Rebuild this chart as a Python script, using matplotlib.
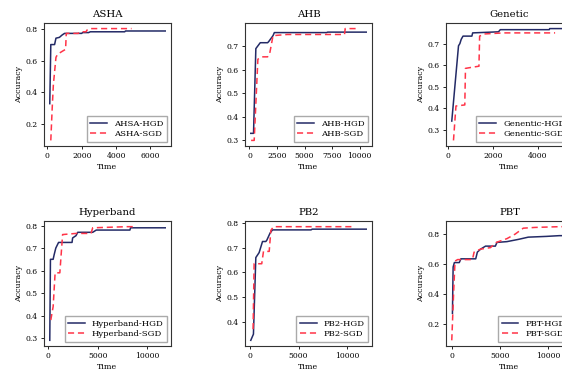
import matplotlib
matplotlib.use("Agg")
import matplotlib.pyplot as plt

plt.rcParams['font.family'] = ['DejaVu Serif']

titles = ['ASHA', 'AHB', 'Genetic', 'Hyperband', 'PB2', 'PBT']
hgd_labels = ['AHSA-HGD', 'AHB-HGD', 'Genentic-HGD', 'Hyperband-HGD', 'PB2-HGD', 'PBT-HGD']
sgd_labels = ['ASHA-SGD', 'AHB-SGD', 'Genentic-SGD', 'Hyperband-SGD', 'PB2-SGD', 'PBT-SGD']

# ASHA
asha_hgd_t = [140, 200, 420, 500, 700, 860, 1000, 2000, 2050, 2400, 2500, 4500, 4550, 6860]
asha_hgd_a = [0.33, 0.70, 0.70, 0.74, 0.745, 0.76, 0.77, 0.77, 0.775, 0.775, 0.78, 0.78, 0.785, 0.785]
asha_sgd_t = [200, 280, 350, 500, 600, 900, 1060, 1100, 1800, 1900, 2250, 2300, 2450, 4900]
asha_sgd_a = [0.10, 0.30, 0.45, 0.62, 0.64, 0.66, 0.67, 0.77, 0.77, 0.78, 0.78, 0.79, 0.80, 0.80]

# AHB
ahb_hgd_t = [120, 370, 580, 980, 1650, 1750, 2140, 2260, 7000, 7100, 10600]
ahb_hgd_a = [0.33, 0.33, 0.69, 0.715, 0.715, 0.72, 0.745, 0.758, 0.758, 0.76, 0.76]
ahb_sgd_t = [150, 430, 765, 1130, 1650, 1840, 2140, 3430, 8630, 8690, 9700]
ahb_sgd_a = [0.30, 0.30, 0.645, 0.655, 0.655, 0.67, 0.745, 0.75, 0.75, 0.775, 0.775]

# Genetic
gen_hgd_t = [160, 460, 520, 580, 660, 1055, 1090, 2240, 2320, 4500, 4520, 5300]
gen_hgd_a = [0.34, 0.69, 0.70, 0.72, 0.735, 0.735, 0.75, 0.755, 0.765, 0.765, 0.77, 0.77]
gen_sgd_t = [236, 346, 740, 770, 1055, 1370, 1400, 1600, 2470, 4760]
gen_sgd_a = [0.25, 0.41, 0.415, 0.585, 0.59, 0.595, 0.735, 0.745, 0.75, 0.75]

# Hyperband
hyp_hgd_t = [137, 205, 480, 580, 750, 1030, 2400, 2460, 2800, 2980, 4500, 4860, 8280, 8350, 11870]
hyp_hgd_a = [0.29, 0.65, 0.65, 0.67, 0.70, 0.725, 0.725, 0.745, 0.755, 0.77, 0.77, 0.78, 0.78, 0.79, 0.79]
hyp_sgd_t = [240, 480, 680, 1160, 1440, 2800, 4330, 4500, 7940, 8800]
hyp_sgd_a = [0.38, 0.44, 0.59, 0.59, 0.76, 0.765, 0.765, 0.79, 0.795, 0.795]

# PB2
pb2_hgd_t = [70, 345, 590, 930, 1280, 1620, 1720, 2070, 2310, 6280, 6400, 11970]
pb2_hgd_a = [0.325, 0.35, 0.66, 0.68, 0.725, 0.725, 0.73, 0.76, 0.772, 0.772, 0.775, 0.775]
pb2_sgd_t = [310, 414, 1200, 1380, 1970, 2140, 2415, 10760]
pb2_sgd_a = [0.37, 0.635, 0.635, 0.685, 0.685, 0.77, 0.785, 0.785]

# PBT
pbt_hgd_t = [70, 140, 270, 780, 950, 2490, 2660, 3000, 3510, 4530, 4700, 5730, 6920, 7950, 9820, 11180, 12000]
pbt_hgd_a = [0.27, 0.58, 0.61, 0.61, 0.635, 0.635, 0.68, 0.70, 0.72, 0.72, 0.745, 0.75, 0.765, 0.78, 0.785, 0.79, 0.79]
pbt_sgd_t = [0, 205, 340, 610, 2150, 2320, 3000, 4020, 4640, 5730, 6580, 7430, 8630, 11180, 12000]
pbt_sgd_a = [0.09, 0.43, 0.62, 0.63, 0.63, 0.68, 0.70, 0.71, 0.745, 0.77, 0.80, 0.84, 0.845, 0.85, 0.85]

hgd = [(asha_hgd_t, asha_hgd_a), (ahb_hgd_t, ahb_hgd_a), (gen_hgd_t, gen_hgd_a),
       (hyp_hgd_t, hyp_hgd_a), (pb2_hgd_t, pb2_hgd_a), (pbt_hgd_t, pbt_hgd_a)]
sgd = [(asha_sgd_t, asha_sgd_a), (ahb_sgd_t, ahb_sgd_a), (gen_sgd_t, gen_sgd_a),
       (hyp_sgd_t, hyp_sgd_a), (pb2_sgd_t, pb2_sgd_a), (pbt_sgd_t, pbt_sgd_a)]

yticks = [[0.2, 0.4, 0.6, 0.8], [0.3, 0.4, 0.5, 0.6, 0.7], [0.3, 0.4, 0.5, 0.6, 0.7],
          [0.3, 0.4, 0.5, 0.6, 0.7, 0.8], [0.4, 0.5, 0.6, 0.7, 0.8], [0.2, 0.4, 0.6, 0.8]]

W, H = 562, 373
fig = plt.figure(figsize=(W / 100, H / 100), dpi=100)
lefts = [44, 245, 446]
rows = [(23, 146), (221, 346)]

for i in range(6):
    r, c = divmod(i, 3)
    top, bot = rows[r]
    ax = fig.add_axes([lefts[c] / W, 1 - bot / H, 127 / W, (bot - top) / H])
    ax.plot(*hgd[i], color='#232a66', lw=1.1, label=hgd_labels[i])
    ax.plot(*sgd[i], color='#ff3448', lw=1.1, ls=(0, (4, 2.5)), label=sgd_labels[i])
    ax.set_title(titles[i], fontsize=7.3, pad=4)
    ax.set_xlabel('Time', fontsize=5.7, labelpad=2)
    ax.set_ylabel('Accuracy', fontsize=5.7, labelpad=2)
    ax.set_yticks(yticks[i])
    ax.tick_params(labelsize=5.5, length=2.5, width=0.6, pad=2)
    for s in ax.spines.values():
        s.set_linewidth(0.8)
        s.set_color('#333333')
    ax.legend(loc='lower right', fontsize=6.1, frameon=True, fancybox=False,
              edgecolor='#aaaaaa', framealpha=1, borderpad=0.4, handlelength=2.0,
              labelspacing=0.3)

fig.savefig('out.png', dpi=100)
